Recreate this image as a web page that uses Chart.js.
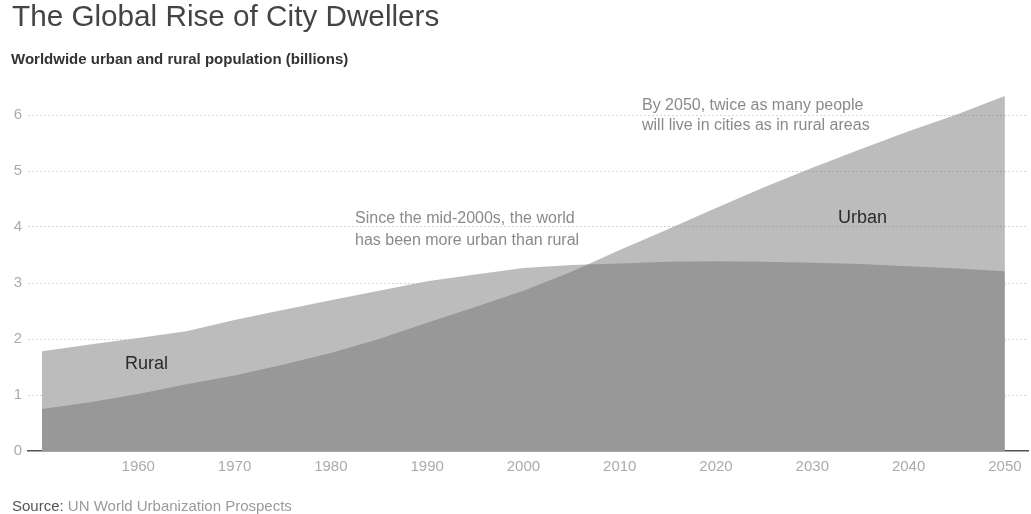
<!DOCTYPE html>
<html>
<head>
<meta charset="utf-8">
<script src="https://cdn.jsdelivr.net/npm/chart.js@4/dist/chart.umd.min.js"></script>
<style>
  html, body { margin: 0; padding: 0; background: #fff; }
  body { width: 1031px; height: 514px; position: relative; overflow: hidden;
         font-family: "Liberation Sans", Arial, Helvetica, sans-serif; }
  #wrap { position: absolute; left: 0; top: 0; width: 1031px; height: 514px; }
  .t { position: absolute; white-space: nowrap; }
  #title { left: 12px; top: 1px; font-size: 29.7px; line-height: 30px; color: #444; }
  #subtitle { left: 11px; top: 50.5px; font-size: 15px; line-height: 15px; font-weight: bold; color: #333; letter-spacing: 0px; }
  #source { left: 12px; top: 497.5px; font-size: 15px; line-height: 15px; color: #9a9a9a; }
  #source b { font-weight: normal; color: #555; }
  .ann { font-size: 16px; color: #8a8a8a; }
  #ann1 { left: 355px; top: 207px; line-height: 22px; }
  #ann2 { left: 642px; top: 95px; line-height: 20px; }
  .lab { font-size: 18px; line-height: 18px; color: #2a2a2a; }
  #rural { left: 125px; top: 354px; }
  #urban { left: 838px; top: 208px; }
</style>
</head>
<body>
<div id="wrap"><canvas id="c" width="1031" height="514"></canvas></div>
<div class="t" id="title">The Global Rise of City Dwellers</div>
<div class="t" id="subtitle">Worldwide urban and rural population (billions)</div>
<div class="t ann" id="ann1">Since the mid-2000s, the world<br>has been more urban than rural</div>
<div class="t ann" id="ann2">By 2050, twice as many people<br>will live in cities as in rural areas</div>
<div class="t lab" id="rural">Rural</div>
<div class="t lab" id="urban">Urban</div>
<div class="t" id="source"><b>Source:</b> UN World Urbanization Prospects</div>
<script>
// Data (billions), UN World Urbanization Prospects, 5-year steps
const years = [1950, 1955, 1960, 1965, 1970, 1975, 1980, 1985, 1990, 1995, 2000,
               2005, 2010, 2015, 2020, 2025, 2030, 2035, 2040, 2045, 2050];
const urban = [0.75, 0.87, 1.02, 1.19, 1.35, 1.54, 1.75, 2.00, 2.29, 2.57, 2.86,
               3.20, 3.59, 3.96, 4.34, 4.71, 5.06, 5.39, 5.71, 6.01, 6.34];
const rural = [1.78, 1.90, 2.02, 2.14, 2.34, 2.52, 2.69, 2.86, 3.03, 3.15, 3.27,
               3.32, 3.35, 3.38, 3.39, 3.38, 3.36, 3.34, 3.30, 3.26, 3.21];
const xTickLabels = ['1960', '1970', '1980', '1990', '2000', '2010', '2020', '2030', '2040', '2050'];
const yTickLabels = ['0', '1', '2', '3', '4', '5', '6'];

const toPts = (arr) => years.map((y, i) => ({ x: y, y: arr[i] }));

new Chart(document.getElementById('c'), {
  type: 'line',
  data: {
    datasets: [
      {
        label: 'Urban',
        data: toPts(urban),
        fill: 'origin',
        backgroundColor: 'rgba(110,110,110,0.463)',
        borderWidth: 0,
        pointRadius: 0,
        tension: 0
      },
      {
        label: 'Rural',
        data: toPts(rural),
        fill: 'origin',
        backgroundColor: 'rgb(188,188,188)',
        borderWidth: 0,
        pointRadius: 0,
        tension: 0
      }
    ]
  },
  options: {
    responsive: false,
    animation: false,
    events: [],
    layout: { padding: { left: 0, right: 3, top: 92.6, bottom: 33 } },
    plugins: { legend: { display: false }, tooltip: { enabled: false }, title: { display: false } },
    scales: {
      x: {
        type: 'linear',
        min: 1948.55,
        max: 2052.4,
        grid: { display: false, drawTicks: false },
        border: { display: true, color: '#505050', width: 1.6 },
        afterBuildTicks: (s) => { s.ticks = xTickLabels.map(v => ({ value: Number(v) })); },
        afterFit: (s) => { s.height = 30; },
        ticks: {
          padding: 7,
          color: '#ababab',
          font: { family: '"Liberation Sans", Arial, sans-serif', size: 15 },
          maxRotation: 0,
          autoSkip: false,
          callback: (v) => String(v)
        }
      },
      y: {
        min: 0,
        max: 6.4,
        afterBuildTicks: (s) => { s.ticks = yTickLabels.map(v => ({ value: Number(v) })); },
        afterFit: (s) => { s.width = 28; },
        border: { display: false, dash: [2, 2] },
        grid: {
          drawTicks: false,
          color: (ctx) => ctx.tick && ctx.tick.value === 0 ? 'rgba(0,0,0,0)' : '#d6d6d6',
          lineWidth: 1
        },
        ticks: {
          padding: 6,
          color: '#ababab',
          font: { family: '"Liberation Sans", Arial, sans-serif', size: 15 },
          callback: (v) => String(v)
        }
      }
    }
  }
});
</script>
</body>
</html>
